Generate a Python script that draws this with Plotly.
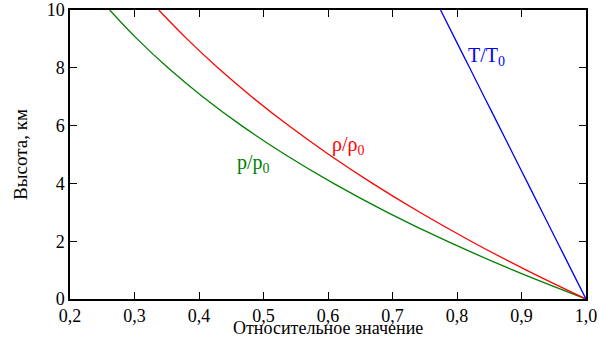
import plotly.graph_objects as go

# Altitude, km
altitude = [0, 1, 2, 3, 4, 5, 6, 7, 8, 9, 10]
# Relative temperature, pressure and density
temp_ratio = [1.0, 0.9774, 0.9549, 0.9323, 0.9098, 0.8872, 0.8647, 0.8421, 0.8196, 0.7970, 0.7745]
pres_ratio = [1.0, 0.8870, 0.7846, 0.6920, 0.6085, 0.5334, 0.4660, 0.4057, 0.3519, 0.3040, 0.2615]
dens_ratio = [1.0, 0.9075, 0.8217, 0.7423, 0.6689, 0.6012, 0.5389, 0.4817, 0.4292, 0.3813, 0.3376]

x_ticks = [0.2, 0.3, 0.4, 0.5, 0.6, 0.7, 0.8, 0.9, 1.0]
x_tick_labels = ["0,2", "0,3", "0,4", "0,5", "0,6", "0,7", "0,8", "0,9", "1,0"]
y_ticks = [0, 2, 4, 6, 8, 10]

FONT = "Liberation Serif"

fig = go.Figure()
for vals, color in [(pres_ratio, "#008000"), (dens_ratio, "#ff0000"), (temp_ratio, "#0000ff")]:
    fig.add_trace(go.Scatter(x=vals, y=altitude, mode="lines",
                             line=dict(color=color, width=1.3, shape="spline"),
                             showlegend=False, hoverinfo="skip"))

labels = [
    (0.8465, 8.4, "T/T<sub>0</sub>", "#0000ff"),
    (0.631, 5.3, "ρ/ρ<sub>0</sub>", "#ff0000"),
    (0.484, 4.68, "p/p<sub>0</sub>", "#008000"),
]
for x, y, t, c in labels:
    fig.add_annotation(x=x, y=y, text=t, showarrow=False,
                       font=dict(family=FONT, size=20, color=c))

# x-axis caption placed just below the tick labels
fig.add_annotation(x=0.5, y=0, xref="paper", yref="paper", yanchor="middle",
                   yshift=-29, borderpad=0, text="Относительное значение", showarrow=False,
                   font=dict(family=FONT, size=18, color="black"))

axis_common = dict(showgrid=False, zeroline=False, showline=True, linecolor="black",
                   linewidth=1.5, mirror="ticks", ticks="inside", ticklen=7,
                   tickwidth=1, tickcolor="black", automargin=False,
                   tickfont=dict(family=FONT, size=18, color="black"))

fig.update_xaxes(range=[0.2, 1.0], tickvals=x_ticks, ticktext=x_tick_labels,
                 **axis_common)
fig.update_yaxes(range=[0, 10], tickvals=y_ticks,
                 title=dict(text="Высота, км", standoff=14,
                            font=dict(family=FONT, size=19, color="black")),
                 **axis_common)

fig.update_layout(width=600, height=340, margin=dict(l=70, r=14, t=10, b=41, autoexpand=False),
                  plot_bgcolor="white", paper_bgcolor="white",
                  font=dict(family=FONT))

fig.write_html("out.html")
